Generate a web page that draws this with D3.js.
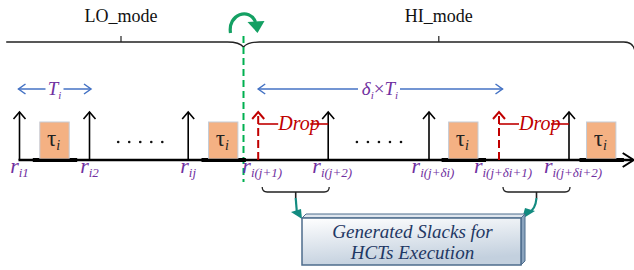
<!doctype html>
<html>
<head>
<meta charset="utf-8">
</head>
<body style="margin:0">
<script src="https://d3js.org/d3.v7.min.js"></script>
<script>
  // releases of task i, in units of its period T_i
  const releaseNames = ['i1', 'i2', 'ij', 'i(j+1)', 'i(j+2)', 'i(j+δi)', 'i(j+δi+1)', 'i(j+δi+2)'];
  const releaseTimes = [0, 1, 2.41, 3.41, 4.41, 5.85, 6.85, 7.85];
  const releaseDropped = [false, false, false, true, false, false, true, false];

  // executed jobs (orange boxes)
  const jobStarts = [0.29, 2.70, 6.13, 8.10];
  const jobLength = 0.42;

  // "....." gaps
  const gapStarts = [1.41, 4.82];
  const gapEnds = [2.04, 5.45];

  const modeNames = ['LO_mode', 'HI_mode'];
  const modeTicks = [1.45, 5.99];
  const modeSwitch = 3.2;
  const timeStart = -0.19;
  const timeEnd = 8.76;

  // dropped release -> next release, the generated slack
  const slackFrom = [3, 6];
  const slackTo = [4, 7];

  const periodSpan = [0, 1];
  const hiSpan = [3.41, 6.9];

  const width = 634;
  const height = 270;
  const axisY = 160;
  const arrowTop = 112;
  const blue = '#4472C4';
  const purple = '#7030A0';
  const red = '#C00000';
  const teal = '#138B80';

  const x = d3.scaleLinear()
      .domain([0, 7.85])
      .range([19.5, 569]);

  const svg = d3.select('body').append('svg')
      .attr('width', width)
      .attr('height', height);

  // text made of parts: [string, small?, style]
  function label(px, py, size, color, italic, parts, anchor) {
    const t = svg.append('text')
        .attr('x', px)
        .attr('y', py)
        .attr('font-family', 'Liberation Serif')
        .style('font-family', '"Liberation Serif", "Times New Roman", serif')
        .attr('font-size', size)
        .attr('font-style', italic ? 'italic' : 'normal')
        .attr('fill', color)
        .attr('text-anchor', anchor || 'middle');
    let low = false;
    parts.forEach(p => {
      const s = t.append('tspan').text(p[0]);
      if (p[1] && !low) { s.attr('dy', 4); low = true; }
      else if (!p[1] && low) { s.attr('dy', -4); low = false; }
      if (p[1]) s.attr('font-size', Math.round(size * 0.6));
      if (p[2]) s.attr('font-style', p[2]);
    });
    return t;
  }

  const defs = svg.append('defs');
  const grad = defs.append('linearGradient')
      .attr('id', 'boxGrad')
      .attr('x1', 0).attr('y1', 0).attr('x2', 0.3).attr('y2', 1);
  grad.append('stop').attr('offset', '0%').attr('stop-color', '#ffffff');
  grad.append('stop').attr('offset', '100%').attr('stop-color', '#c3d0de');

  // ---- top brace for modes
  const bx = x(modeSwitch);
  svg.append('path')
      .attr('d', `M${x(timeStart)},42 L${bx - 16},42 Q${bx - 4},42 ${bx},47 Q${bx + 4},42 ${bx + 16},42 L${x(timeEnd) - 9},42 Q${x(timeEnd)},42 ${x(timeEnd) + 2},50`)
      .attr('fill', 'none')
      .attr('stroke', '#222')
      .attr('stroke-width', 1.3);

  svg.selectAll('.mode-tick')
    .data(modeTicks)
    .enter().append('line')
      .attr('class', 'mode-tick')
      .attr('x1', d => x(d)).attr('x2', d => x(d))
      .attr('y1', 36).attr('y2', 42)
      .attr('stroke', '#222')
      .attr('stroke-width', 1.2);

  modeNames.forEach((name, i) => {
    label(x(modeTicks[i]), 22, 18, '#111', false, [[name]]);
  });

  // green switch arrow
  svg.append('path')
      .attr('d', `M${bx - 13},33 C${bx - 16},14 ${bx + 6},7 ${bx + 12},22`)
      .attr('fill', 'none')
      .attr('stroke', '#14A063')
      .attr('stroke-width', 3.2);
  svg.append('path')
      .attr('d', `M${bx + 4},22 L${bx + 21},21 L${bx + 14},33 Z`)
      .attr('fill', '#14A063');

  // green dashed switch line
  svg.append('line')
      .attr('x1', bx).attr('x2', bx)
      .attr('y1', 36).attr('y2', 182)
      .attr('stroke', '#00B050')
      .attr('stroke-width', 2)
      .attr('stroke-dasharray', '7,4');

  // ---- period arrows (blue)
  function spanArrow(a, b, y, gapL, gapR) {
    const g = svg.append('g')
        .attr('stroke', blue)
        .attr('stroke-width', 1.5)
        .attr('fill', 'none');
    g.append('line').attr('x1', a).attr('x2', gapL).attr('y1', y).attr('y2', y);
    g.append('line').attr('x1', gapR).attr('x2', b).attr('y1', y).attr('y2', y);
    g.append('path').attr('d', `M${a + 7},${y - 5} L${a},${y} L${a + 7},${y + 5}`);
    g.append('path').attr('d', `M${b - 7},${y - 5} L${b},${y} L${b - 7},${y + 5}`);
  }
  const pMid = (x(periodSpan[0]) + x(periodSpan[1])) / 2;
  spanArrow(x(periodSpan[0]) - 1, x(periodSpan[1]) + 1.5, 89, pMid - 9, pMid + 9);
  label(pMid, 95, 19, purple, true, [['T'], ['i', true]]);

  const hMid = 380;
  spanArrow(x(hiSpan[0]), x(hiSpan[1]), 89, hMid - 22, hMid + 20);
  label(hMid, 95, 19, purple, true, [['δ'], ['i', true], ['×', false, 'normal'], ['T'], ['i', true]]);

  // ---- jobs
  svg.selectAll('.job-base')
    .data(jobStarts)
    .enter().append('line')
      .attr('class', 'job-base')
      .attr('x1', d => x(d) - 7).attr('x2', d => x(d + jobLength) + 8)
      .attr('y1', axisY).attr('y2', axisY)
      .attr('stroke', '#000')
      .attr('stroke-width', 4);

  svg.selectAll('.job')
    .data(jobStarts)
    .enter().append('rect')
      .attr('class', 'job')
      .attr('x', d => x(d))
      .attr('y', 122)
      .attr('width', d => x(d + jobLength) - x(d))
      .attr('height', axisY - 122 - 1)
      .attr('fill', '#F4B183')
      .attr('stroke', '#c5ccd6')
      .attr('stroke-width', 1);

  jobStarts.forEach(s => {
    label(x(s + jobLength / 2) - 1, 146, 23, '#222', false, [['τ'], ['i', true, 'italic']]);
  });

  // ---- time axis
  svg.append('line')
      .attr('x1', x(0) - 1).attr('x2', x(timeEnd))
      .attr('y1', axisY).attr('y2', axisY)
      .attr('stroke', '#000')
      .attr('stroke-width', 2.5);
  svg.append('path')
      .attr('d', `M${x(timeEnd) - 10},${axisY - 7} L${x(timeEnd) + 1},${axisY} L${x(timeEnd) - 10},${axisY + 7}`)
      .attr('fill', 'none')
      .attr('stroke', '#000')
      .attr('stroke-width', 2);

  // ---- dots
  gapStarts.forEach((s, i) => {
    const dots = d3.range(5).map(k => s + (gapEnds[i] - s) * k / 4);
    svg.selectAll(`.dot${i}`)
      .data(dots)
      .enter().append('circle')
        .attr('cx', d => x(d))
        .attr('cy', 142)
        .attr('r', 1.3)
        .attr('fill', '#111');
  });

  // ---- release arrows
  const releases = releaseTimes.map((t, i) => ({t, name: releaseNames[i], drop: releaseDropped[i]}));
  const rel = svg.selectAll('.rel')
    .data(releases)
    .enter().append('g')
      .attr('class', 'rel')
      .attr('stroke', d => d.drop ? red : '#000')
      .attr('stroke-width', d => d.drop ? 2 : 1.6)
      .attr('fill', 'none');
  rel.append('line')
      .attr('x1', d => x(d.t)).attr('x2', d => x(d.t))
      .attr('y1', axisY).attr('y2', arrowTop)
      .attr('stroke-dasharray', d => d.drop ? '8,4' : null);
  rel.append('path')
      .attr('d', d => `M${x(d.t) - 6},${arrowTop + 7} L${x(d.t)},${arrowTop} L${x(d.t) + 6},${arrowTop + 7}`);

  releases.forEach(d => {
    label(x(d.t) + (d.name.length > 2 ? 4 : 0), 173, 22, purple, true, [['r'], [d.name, true]]);
  });

  // ---- drop markers
  slackFrom.forEach((f, i) => {
    const a = x(releaseTimes[f]);
    const b = x(releaseTimes[slackTo[i]]);
    const tx = a + 20;
    svg.append('line')
        .attr('x1', a).attr('x2', tx)
        .attr('y1', 124).attr('y2', 124)
        .attr('stroke', red).attr('stroke-width', 1.6);
    svg.append('line')
        .attr('x1', tx + 32).attr('x2', b)
        .attr('y1', 124).attr('y2', 124)
        .attr('stroke', red).attr('stroke-width', 1.6);
    label(tx, 130, 20, red, true, [['Drop']], 'start');
  });

  // ---- slack braces and arrows
  const boxL = 302, boxR = 521, boxT = 218, boxB = 265;
  slackFrom.forEach((f, i) => {
    const a = x(releaseTimes[f]) + 4;
    const b = x(releaseTimes[slackTo[i]]) + 1;
    const m = (a + b) / 2;
    svg.append('path')
        .attr('d', `M${a},187 Q${a},192 ${a + 5},192 L${b - 5},192 Q${b},192 ${b},187`)
        .attr('fill', 'none')
        .attr('stroke', '#222')
        .attr('stroke-width', 1.3);
    svg.append('line')
        .attr('x1', m).attr('x2', m)
        .attr('y1', 192).attr('y2', 198)
        .attr('stroke', '#222')
        .attr('stroke-width', 1.6);
    const left = i === 0;
    const tipX = left ? boxL : boxR + 1;
    svg.append('path')
        .attr('d', left
          ? `M${m},198 Q${m + 1},210 ${tipX - 5},214`
          : `M${m},198 Q${m - 1},210 ${tipX + 6},213`)
        .attr('fill', 'none')
        .attr('stroke', teal)
        .attr('stroke-width', 2.2);
    svg.append('path')
        .attr('d', left
          ? `M${tipX - 11},212 L${tipX - 1},209 L${tipX},219 Z`
          : `M${tipX + 13},211 L${tipX + 3},208 L${tipX},219 Z`)
        .attr('fill', teal);
  });

  // ---- slack box
  svg.append('path')
      .attr('d', `M${boxR},${boxT} L${boxR + 4},${boxT - 4} L${boxR + 4},${boxB - 4} L${boxR},${boxB} Z`)
      .attr('fill', '#8aa3bd')
      .attr('stroke', '#4d6c8c')
      .attr('stroke-width', 1);
  svg.append('path')
      .attr('d', `M${boxL},${boxT} L${boxL + 4},${boxT - 4} L${boxR + 4},${boxT - 4} L${boxR},${boxT} Z`)
      .attr('fill', '#dfe6ee')
      .attr('stroke', '#4d6c8c')
      .attr('stroke-width', 1);
  svg.append('rect')
      .attr('x', boxL).attr('y', boxT)
      .attr('width', boxR - boxL).attr('height', boxB - boxT)
      .attr('fill', 'url(#boxGrad)')
      .attr('stroke', '#4d6c8c')
      .attr('stroke-width', 1.5);

  const boxLines = ['Generated Slacks for', 'HCTs Execution'];
  boxLines.forEach((line, i) => {
    label((boxL + boxR) / 2 + 1, 238 + i * 21, 19, '#1F3864', true, [[line]]);
  });
</script>
</body>
</html>
